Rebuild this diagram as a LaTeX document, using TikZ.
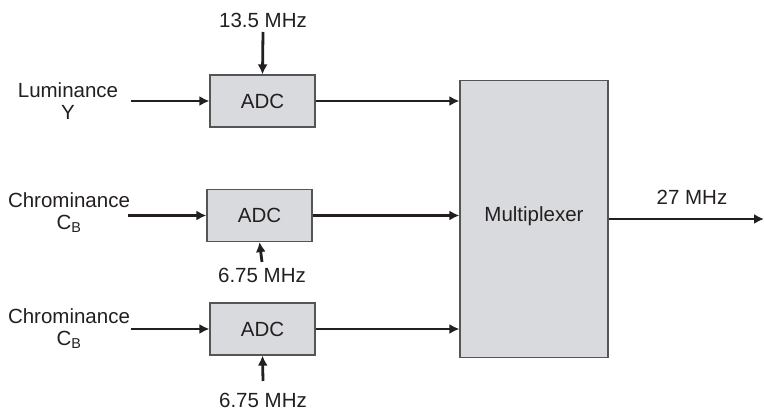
\documentclass[tikz,border=0pt]{standalone}
\usepackage{fontspec}
\setmainfont{Liberation Sans}
\usetikzlibrary{arrows.meta,positioning}
\definecolor{boxgray}{RGB}{217,218,221}
\definecolor{edgegray}{RGB}{85,85,85}
\definecolor{ink}{RGB}{35,31,32}

\begin{document}
\begin{tikzpicture}[x=1pt, y=-1pt, font=\fontsize{20.5}{24}\selectfont, text=ink,
    block/.style={draw=edgegray, line width=1.2pt, fill=boxgray, inner sep=0pt},
    adc/.style={block, minimum width=105pt, minimum height=52pt},
    sig/.style={draw=ink, line width=2.8pt, -{Latex[length=10pt,width=10pt]}},
    lbl/.style={align=center, inner sep=0pt}]
  \useasboundingbox (0,0) rectangle (764,411);

  \node[adc] (adcA) at (262.5,101) {ADC};
  \node[adc] (adcB) at (259.5,215.5) {ADC};
  \node[adc] (adcC) at (262.5,329) {ADC};
  \node[block, minimum width=148pt, minimum height=277pt] (mux) at (534,219) {};
  \node (muxtxt) at (534,216) {Multiplexer};

  \node[lbl] (lumY) at (68,101) {Luminance\\[-2pt]Y};
  \node[lbl] (chrB) at (69,213) {Chrominance\\[-2pt]C\textsubscript{B}};
  \node[lbl] (chrC) at (69,329) {Chrominance\\[-2pt]C\textsubscript{B}};
  \coordinate (inA) at (131,101);
  \coordinate (inB) at (128,215.5);
  \coordinate (inC) at (131,329);

  \node[lbl] (clkA) at (263,20) {13.5 MHz};
  \node[lbl] (clkB) at (262,275) {6.75 MHz};
  \node[lbl] (clkC) at (263,400) {6.75 MHz};
  \coordinate (topA) at (263,32);
  \coordinate (botB) at (262,262);
  \coordinate (botC) at (263,381);

  \node[lbl] (rate) at (692,197) {27 MHz};
  \coordinate (out) at (764,219);

  \draw[sig] (inA) -- (adcA);
  \draw[sig] (inB) -- (adcB);
  \draw[sig] (inC) -- (adcC);
  \draw[sig] (topA) -- (adcA.north);
  \draw[sig] (botB) -- (adcB.south);
  \draw[sig] (botC) -- (adcC.south);
  \draw[sig] (adcA.east) -- (adcA.east -| mux.west);
  \draw[sig] (adcB.east) -- (adcB.east -| mux.west);
  \draw[sig] (adcC.east) -- (adcC.east -| mux.west);
  \draw[sig] (mux.east) -- (out);
\end{tikzpicture}
\end{document}
